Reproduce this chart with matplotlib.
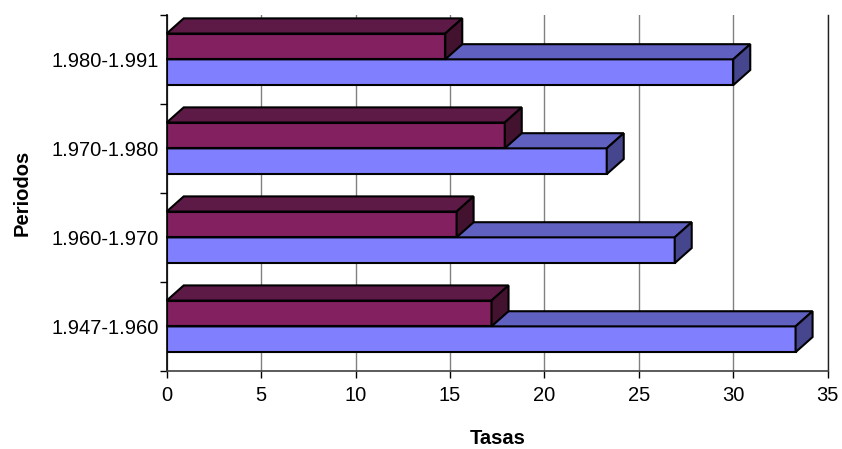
import matplotlib.pyplot as plt
from matplotlib.patches import Polygon

# datos
periodos = ['1.947-1.960', '1.960-1.970', '1.970-1.980', '1.980-1.991']
serie_azul = [33.3, 26.9, 23.3, 30.0]
serie_morada = [17.2, 15.35, 17.9, 14.75]

plt.rcParams['font.family'] = ['Liberation Sans', 'DejaVu Sans']

fig = plt.figure(figsize=(8.42, 4.49), dpi=100)
ax = fig.add_axes([0.198, 0.174, 0.785, 0.793])

alto = 0.29     # alto de la cara frontal
dx, dy = 0.9, 0.17  # profundidad del efecto 3D
lw = 1.5


def barra_3d(ax, y0, valor, frente, arriba, lado, z):
    ax.barh(y0, valor, height=alto, align='edge', color=frente,
            edgecolor='black', linewidth=lw, zorder=z)
    yt = y0 + alto
    top = Polygon([(0, yt), (valor, yt), (valor + dx, yt + dy), (dx, yt + dy)],
                  closed=True, facecolor=arriba, edgecolor='black',
                  linewidth=lw, zorder=z, clip_on=False, joinstyle='miter')
    side = Polygon([(valor, y0), (valor, yt), (valor + dx, yt + dy), (valor + dx, y0 + dy)],
                   closed=True, facecolor=lado, edgecolor='black',
                   linewidth=lw, zorder=z, clip_on=False, joinstyle='miter')
    ax.add_patch(top)
    ax.add_patch(side)


for i in range(len(periodos)):
    barra_3d(ax, i - alto, serie_azul[i], '#8080FF', '#6060C0', '#46468F', 2)
    barra_3d(ax, i, serie_morada[i], '#822060', '#5E1A46', '#43122F', 3)

ax.set_xlim(0, 35)
ax.set_ylim(-0.5, 3.5)
ax.set_xticks(range(0, 36, 5))
ax.set_yticks(range(len(periodos)))
ax.set_yticklabels(periodos)
ax.set_yticks([i - 0.5 for i in range(len(periodos) + 1)], minor=True)
ax.tick_params(axis='y', which='major', length=0, pad=6, labelsize=14.5)
ax.tick_params(axis='y', which='minor', length=5, width=1, direction='out')
ax.tick_params(axis='x', length=5, width=1, direction='out', labelsize=14.5, pad=6)

ax.grid(axis='x', color='#808080', linewidth=1, zorder=0)
ax.set_axisbelow(True)
ax.spines['top'].set_visible(False)
ax.spines['right'].set_color('#202020')
ax.spines['right'].set_linewidth(1)
ax.spines['left'].set_linewidth(1.2)
ax.spines['bottom'].set_color('#404040')
ax.spines['bottom'].set_linewidth(1.2)

ax.set_xlabel('Tasas', fontsize=14.5, fontweight='bold', labelpad=17)
ax.set_ylabel('Periodos', fontsize=14.5, fontweight='bold', labelpad=14)

fig.savefig('out.png', dpi=100)
